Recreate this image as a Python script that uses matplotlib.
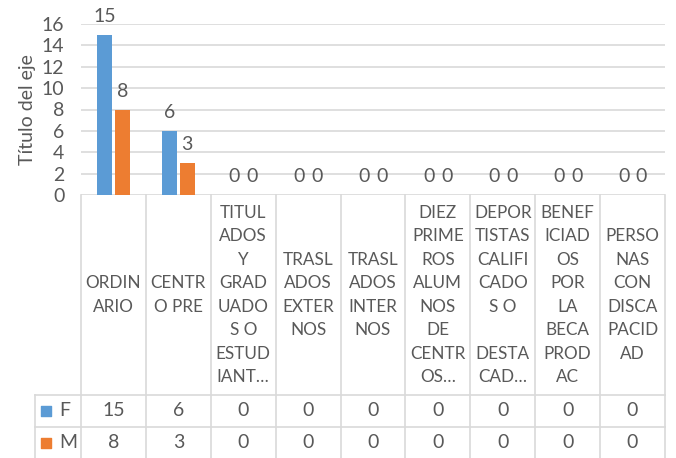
import matplotlib
matplotlib.use("Agg")
import matplotlib.pyplot as plt
import numpy as np

plt.rcParams['font.family'] = ['Lato', 'DejaVu Sans']

# datos
categorias = [
    "ORDIN\nARIO",
    "CENTR\nO PRE",
    "TITUL\nADOS\nY\nGRAD\nUADO\nS O\nESTUD\nIANT…",
    "TRASL\nADOS\nEXTER\nNOS",
    "TRASL\nADOS\nINTER\nNOS",
    "DIEZ\nPRIME\nROS\nALUM\nNOS\nDE\nCENTR\nOS…",
    "DEPOR\nTISTAS\nCALIFI\nCADO\nS O\n \nDESTA\nCAD…",
    "BENEF\nICIAD\nOS\nPOR\nLA\nBECA\nPROD\nAC",
    "PERSO\nNAS\nCON\nDISCA\nPACID\nAD",
]
serie_f = [15, 6, 0, 0, 0, 0, 0, 0, 0]
serie_m = [8, 3, 0, 0, 0, 0, 0, 0, 0]
series = ["F", "M"]
colores = ["#5b9bd5", "#ed7d31"]
y_ticks = [0, 2, 4, 6, 8, 10, 12, 14, 16]

W, H = 676, 458
gris = "#d9d9d9"
texto = "#595959"
fs = 14

fig = plt.figure(figsize=(W / 100, H / 100), dpi=100)

# zona del grafico
x0, x1, ytop, ybase = 81, 665, 24, 195
ax = fig.add_axes([x0 / W, (H - ybase) / H, (x1 - x0) / W, (ybase - ytop) / H])
x = np.arange(len(categorias))
ancho = 0.23
off = 0.138
b1 = ax.bar(x - off, serie_f, width=ancho, color=colores[0], zorder=3)
b2 = ax.bar(x + off, serie_m, width=ancho, color=colores[1], zorder=3)
for b in (b1, b2):
    ax.bar_label(b, padding=7, color=texto, fontsize=fs)
ax.set_xlim(-0.5, len(categorias) - 0.5)
ax.set_ylim(0, 16)
ax.set_yticks(y_ticks)
ax.set_xticks([])
ax.tick_params(axis='y', length=0, pad=12, labelsize=fs, labelcolor=texto)
ax.grid(axis='y', color=gris, linewidth=1.2, zorder=0)
for s in ax.spines.values():
    s.set_visible(False)
ax.set_ylabel("Título del eje", fontsize=fs, color=texto, labelpad=4)

# tabla de datos
tab = fig.add_axes([x0 / W, 0, (x1 - x0) / W, (H - ybase) / H])
tab.set_xlim(-0.5, len(categorias) - 0.5)
tab.set_ylim(H, ybase)
tab.axis('off')
fila1, fila2, fondo = 395, 427, 459
xl = -0.5 - (x0 - 35) / ((x1 - x0) / len(categorias))
for i in range(len(categorias) + 1):
    tab.plot([i - 0.5, i - 0.5], [ybase, fondo], color=gris, lw=1.2, clip_on=False)
tab.plot([xl, xl], [fila1, fondo], color=gris, lw=1.2, clip_on=False)
for yy in (fila1, fila2):
    tab.plot([xl, len(categorias) - 0.5], [yy, yy], color=gris, lw=1.2, clip_on=False)
for i, c in enumerate(categorias):
    tab.text(i, (ybase + fila1) / 2, c, ha='center', va='center', fontsize=12.3,
             color=texto, linespacing=1.58)
for j, (vals, yc) in enumerate(zip((serie_f, serie_m), ((fila1 + fila2) / 2, (fila2 + fondo) / 2))):
    for i, v in enumerate(vals):
        tab.text(i, yc, str(v), ha='center', va='center', fontsize=fs, color=texto)
    tab.scatter([xl + 0.17], [yc], marker='s', s=60, color=colores[j], clip_on=False)
    tab.text(xl + 0.38, yc, series[j], ha='left', va='center', fontsize=fs, color=texto)

fig.savefig("out.png", dpi=100)
